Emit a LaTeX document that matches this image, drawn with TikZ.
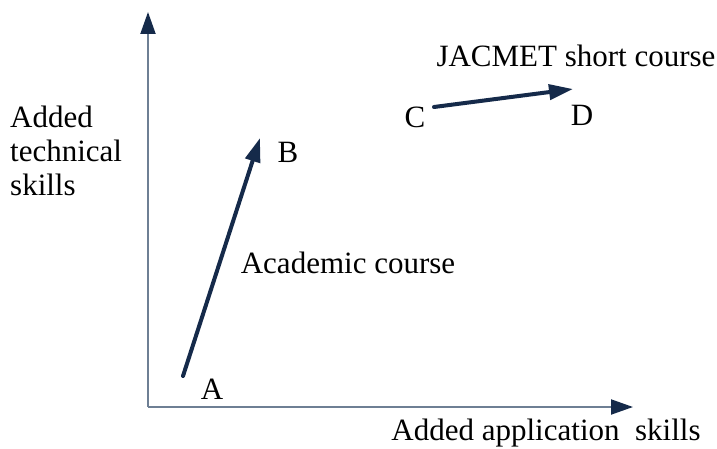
\documentclass[tikz,border=0pt]{standalone}
\usepackage{fontspec}
\setmainfont{Liberation Serif}
\usetikzlibrary{arrows.meta,positioning}
\definecolor{axisgrey}{HTML}{6E7F94}
\definecolor{navy}{HTML}{152A4A}
\newcommand{\skfont}{\fontsize{31}{34}\selectfont}
\tikzset{
  skillmap/.style={font=\skfont, x=1pt, y=1pt},
  % one of the two axes
  axis/.style={draw=axisgrey, line width=2pt,
               -{Triangle[length=22pt,width=15pt,color=navy]}},
  % the move made by a course
  course/.style={draw=navy, line width=4pt, line cap=round,
                 -{Triangle[length=24pt,width=15pt]}},
  % the letter at either end of a course
  ptlabel/.style={inner sep=0pt},
  % a text set beside the picture
  txt/.style={inner sep=0pt, align=left},
}

\begin{document}
\begin{tikzpicture}[skillmap]
  \useasboundingbox (0,0) rectangle (717,448);
  % axes
  \coordinate (o) at (148,41);
  \coordinate (ytip) at (148,436);
  \coordinate (xtip) at (633,41);
  \draw[axis] (o) -- (ytip);
  \draw[axis] (o) -- (xtip);
  \node[txt, anchor=west] (ylab) at (10,297) {Added\\technical\\skills};
  \node[txt] (xlab) at (546,15) {Added application\ \ skills};

  % courses
  \coordinate (a) at (183,72);
  \coordinate (b) at (260,310);
  \coordinate (c) at (434,341);
  \coordinate (d) at (573,359);
  \draw[course] (a) -- (b);
  \draw[course] (c) -- (d);
  \node[ptlabel] (la) at (212,59) {A};
  \node[ptlabel] (lb) at (288,296) {B};
  \node[ptlabel] (lc) at (415,331) {C};
  \node[ptlabel] (ld) at (582,333) {D};
  \node[txt] (acad) at (348,185) {Academic course};
  \node[txt] (jac) at (576,392) {JACMET short course};
\end{tikzpicture}
\end{document}
